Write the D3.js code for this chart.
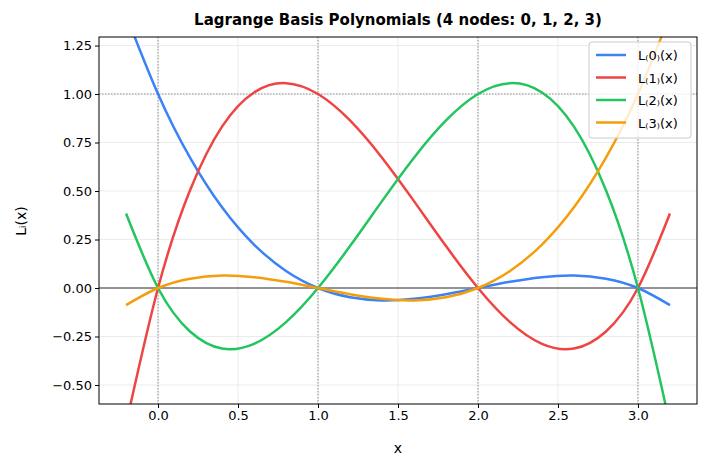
<!DOCTYPE html><html><head><meta charset="utf-8"><script src="https://cdn.jsdelivr.net/npm/d3@7"></script>
<style>body{margin:0;background:#fff}text{font-family:"DejaVu Sans",sans-serif}</style></head><body><svg id="c" width="709" height="470"></svg>
<script>
const xs=[-0.2,0,0.2,0.4,0.6,0.8,1,1.2,1.4,1.6,1.8,2,2.2,2.4,2.6,2.8,3,3.2];
const L0=[1.408,1,0.672,0.416,0.224,0.088,0,-0.048,-0.064,-0.056,-0.032,0,0.032,0.056,0.064,0.048,0,-0.088];
const L1=[-0.704,0,0.504,0.832,1.008,1.056,1,0.864,0.672,0.448,0.216,0,-0.176,-0.288,-0.312,-0.224,0,0.384];
const L2=[0.384,0,-0.224,-0.312,-0.288,-0.176,0,0.216,0.448,0.672,0.864,1,1.056,1.008,0.832,0.504,0,-0.704];
const L3=[-0.088,0,0.048,0.064,0.056,0.032,0,-0.032,-0.056,-0.064,-0.048,0,0.088,0.224,0.416,0.672,1,1.408];
const names=["L₍0₎(x)","L₍1₎(x)","L₍2₎(x)","L₍3₎(x)"];
const colors=["#3b82f6","#ef4444","#22c55e","#f59e0b"];
const nodes=[0,1,2,3];
const xTicks=[0,0.5,1,1.5,2,2.5,3];
const yTicks=[-0.5,-0.25,0,0.25,0.5,0.75,1,1.25];
const series=[L0,L1,L2,L3];
const svg=d3.select("#c");
const L=99,R=697,T=37,B=404;
const x=d3.scaleLinear().domain([-0.369,3.369]).range([L,R]);
const y=d3.scaleLinear().domain([-0.598,1.294]).range([B,T]);
svg.append("defs").append("clipPath").attr("id","cp").append("rect").attr("x",L).attr("y",T).attr("width",R-L).attr("height",B-T);
const g=svg.append("g");
g.selectAll(".gx").data(xTicks).join("line").attr("x1",d=>x(d)).attr("x2",d=>x(d)).attr("y1",T).attr("y2",B).attr("stroke","#e6e6e6").attr("stroke-width",0.8);
g.selectAll(".gy").data(yTicks).join("line").attr("y1",d=>y(d)).attr("y2",d=>y(d)).attr("x1",L).attr("x2",R).attr("stroke","#e6e6e6").attr("stroke-width",0.8);
g.selectAll(".nx").data(nodes).join("line").attr("x1",d=>x(d)).attr("x2",d=>x(d)).attr("y1",T).attr("y2",B).attr("stroke","#777").attr("stroke-width",0.8).attr("stroke-dasharray","1.5,1.5");
g.append("line").attr("x1",L).attr("x2",R).attr("y1",y(1)).attr("y2",y(1)).attr("stroke","#777").attr("stroke-width",0.8).attr("stroke-dasharray","1.5,1.5");
g.append("line").attr("x1",L).attr("x2",R).attr("y1",y(0)).attr("y2",y(0)).attr("stroke","#000").attr("stroke-width",0.8);
const line=d3.line().x((d,i)=>x(xs[i])).y(d=>y(d)).curve(d3.curveNatural);
svg.append("g").attr("clip-path","url(#cp)").selectAll("path").data(series).join("path").attr("d",line).attr("fill","none").attr("stroke",(d,i)=>colors[i]).attr("stroke-width",2.5);
svg.append("rect").attr("x",L).attr("y",T).attr("width",R-L).attr("height",B-T).attr("fill","none").attr("stroke","#000").attr("stroke-width",1);
const style=a=>{a.select(".domain").remove();a.selectAll("line").attr("stroke","#000");a.selectAll("text").attr("font-size",13).attr("fill","#000").attr("font-family","DejaVu Sans");};
svg.append("g").attr("transform",`translate(0,${B})`).call(d3.axisBottom(x).tickValues(xTicks).tickFormat(d3.format(".1f")).tickSizeOuter(0).tickSize(4)).call(style);
svg.append("g").attr("transform",`translate(${L},0)`).call(d3.axisLeft(y).tickValues(yTicks).tickFormat(d=>d3.format(".2f")(d).replace("-","−")).tickSizeOuter(0).tickSize(4)).call(style);
svg.append("text").attr("x",(L+R)/2).attr("y",453).attr("text-anchor","middle").attr("font-size",14).text("x");
svg.append("text").attr("transform","translate(26,221) rotate(-90)").attr("text-anchor","middle").attr("font-size",14).text("Lᵢ(x)");
svg.append("text").attr("x",(L+R)/2).attr("y",25).attr("text-anchor","middle").attr("font-size",15).attr("font-weight","bold").text("Lagrange Basis Polynomials (4 nodes: 0, 1, 2, 3)");
const lg=svg.append("g");
lg.append("rect").attr("x",589).attr("y",42).attr("width",102).attr("height",96).attr("rx",3).attr("fill","#fff").attr("fill-opacity",0.8).attr("stroke","#ccc");
names.forEach((n,i)=>{const yy=55+i*22.5;
lg.append("line").attr("x1",596).attr("x2",626).attr("y1",yy).attr("y2",yy).attr("stroke",colors[i]).attr("stroke-width",2.5);
lg.append("text").attr("x",638).attr("y",yy+5).attr("font-size",13).text(n);});
</script></body></html>
